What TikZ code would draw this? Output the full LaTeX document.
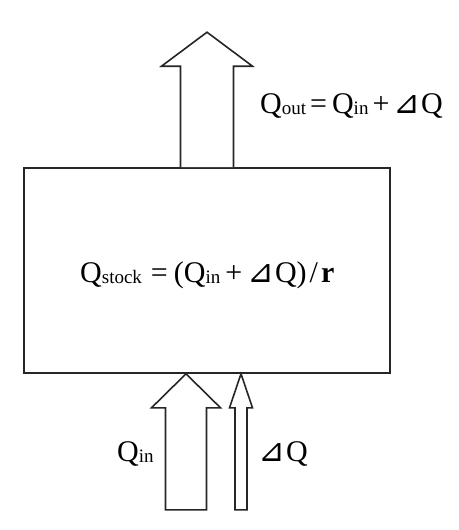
\documentclass[tikz,border=0pt]{standalone}
\usepackage{fontspec}
\setmainfont{Liberation Serif}
\newfontfamily\dvs{DejaVu Sans}
\newcommand{\tri}{{\dvs\fontsize{32}{32}\selectfont ⊿}}
\newcommand{\sbs}[1]{\raisebox{-0.04em}{\fontsize{19}{19}\selectfont #1}}
\usetikzlibrary{calc}
\begin{document}
\begin{tikzpicture}[x=1pt,y=-1pt,
  arr/.style={draw=black!85, line width=1.6pt, fill=white, line join=miter},
  lbl/.style={font=\fontsize{30}{34}\selectfont, inner sep=0pt}]
\useasboundingbox (0,0) rectangle (458,530);
% stock box
\node[draw=black!85, line width=1.6pt, minimum width=366pt, minimum height=205pt, inner sep=0pt] (box) at (207,270.5) {};
% outflow arrow (top)
\draw[arr] ([xshift=-26.5pt]box.north) -- ++(0,-101) -- ++(-19,0) -- ($(box.north)+(0,-135)$) -- ++(45.5,34) -- ++(-19,0) -- ([xshift=26.5pt]box.north);
% inflow arrow (big)
\coordinate (tipA) at ([xshift=-21pt]box.south);
\draw[arr] (tipA) -- ++(34.5,34) -- ++(-14,0) -- ++(0,102) -- ++(-41,0) -- ++(0,-102) -- ++(-14,0) -- cycle;
% delta arrow (small)
\coordinate (tipB) at ([xshift=34pt]box.south);
\draw[arr] (tipB) -- ++(11.5,34) -- ++(-5.5,0) -- ++(0,102) -- ++(-12,0) -- ++(0,-102) -- ++(-5.5,0) -- cycle;
% labels
\node[lbl, anchor=base west] (qout) at (260,113) {Q\sbs{out}\kern4pt=\kern5pt Q\sbs{in}\kern4pt+\kern4pt\tri\kern1pt Q};
\node[lbl, anchor=base west] (qstock) at (80,282) {Q\sbs{stock}\kern9pt=\kern6pt(Q\sbs{in}\kern5pt+\kern5pt\tri\kern1pt Q)\kern3pt/\kern3pt\textbf{r}};
\node[lbl, anchor=base west] (qin) at (117,461) {Q\sbs{in}};
\node[lbl, anchor=base west] (dq) at (258,461) {\tri\kern1pt Q};
\end{tikzpicture}
\end{document}
